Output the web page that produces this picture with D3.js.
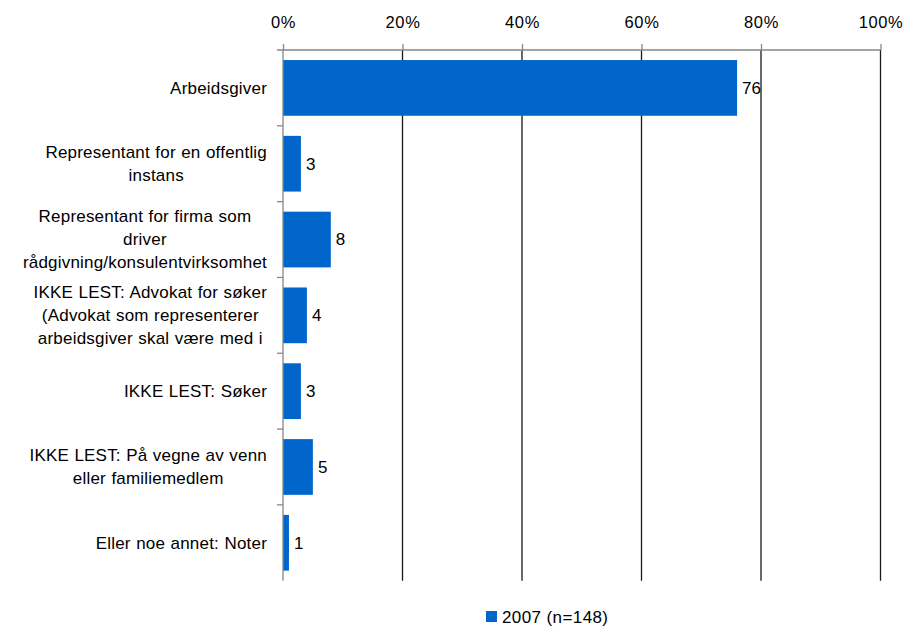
<!DOCTYPE html>
<html>
<head>
<meta charset="utf-8">
<script src="https://cdn.jsdelivr.net/npm/d3@7"></script>
<style>
  body { margin: 0; background: #fff; }
  text { font-family: "Liberation Sans", Arial, sans-serif; fill: #000; }
</style>
</head>
<body>
<svg width="903" height="626"></svg>
<script>
// data
var categories = [
  ["Arbeidsgiver"],
  ["Representant for en offentlig", "instans"],
  ["Representant for firma som", "driver", "rådgivning/konsulentvirksomhet"],
  ["IKKE LEST: Advokat for søker", "(Advokat som representerer", "arbeidsgiver skal være med i"],
  ["IKKE LEST: Søker"],
  ["IKKE LEST: På vegne av venn", "eller familiemedlem"],
  ["Eller noe annet: Noter"]
];
var values = [76, 3, 8, 4, 3, 5, 1];
var xTicks = [0, 20, 40, 60, 80, 100];
var seriesName = "2007 (n=148)";

var svg = d3.select("svg"),
    margin = {top: 50, left: 283, right: 22.5, bottom: 45.3},
    width = 903 - margin.left - margin.right,
    height = 626 - margin.top - margin.bottom,
    chart = svg.append("g").attr("transform", "translate(" + margin.left + "," + margin.top + ")");

var barColor = "#0066CC";

var x = d3.scaleLinear().domain([0, 100]).range([0, width]);
var y = d3.scaleBand()
          .domain(d3.range(categories.length))
          .range([0, height])
          .paddingInner(0.265)
          .paddingOuter(0.1325);

// gridlines (not at 0)
chart.selectAll(".grid")
     .data(xTicks.filter(function(d) { return d > 0; }))
     .enter().append("line")
     .attr("class", "grid")
     .attr("x1", function(d) { return x(d); })
     .attr("x2", function(d) { return x(d); })
     .attr("y1", 0)
     .attr("y2", height)
     .attr("stroke", "#1a1a1a")
     .attr("stroke-width", 1.3);

// top axis
var xAxis = chart.append("g")
     .call(d3.axisTop(x).tickValues(xTicks).tickSize(6).tickPadding(16)
            .tickFormat(function(d) { return d + "%"; }));
xAxis.select(".domain").remove();
xAxis.selectAll(".tick line").attr("stroke", "#868686").attr("stroke-width", 1.3);
xAxis.selectAll("text").attr("font-size", 16.5).attr("letter-spacing", 0.6)
     .style("font-family", '"Liberation Sans", Arial, sans-serif').attr("fill", "#000");
chart.append("line").attr("x1", -6).attr("x2", width).attr("y1", 0).attr("y2", 0)
     .attr("stroke", "#868686").attr("stroke-width", 1.3);

// bars
chart.selectAll(".bar")
     .data(values)
     .enter().append("rect")
     .attr("class", "bar")
     .attr("x", x(0))
     .attr("y", function(d, i) { return y(i); })
     .attr("width", function(d) { return x(d) - x(0); })
     .attr("height", y.bandwidth())
     .attr("fill", barColor);

// value labels
chart.selectAll(".val")
     .data(values)
     .enter().append("text")
     .attr("class", "val")
     .attr("x", function(d) { return x(d) + 5; })
     .attr("y", function(d, i) { return y(i) + y.bandwidth() / 2; })
     .attr("dy", "0.35em")
     .attr("font-size", 17)
     .text(function(d) { return d; });

// left axis line and category separators
chart.append("line").attr("x1", 0).attr("x2", 0).attr("y1", 0).attr("y2", height)
     .attr("stroke", "#868686").attr("stroke-width", 1.3);
chart.selectAll(".sep")
     .data(d3.range(1, categories.length))
     .enter().append("line")
     .attr("class", "sep")
     .attr("x1", -6).attr("x2", 0)
     .attr("y1", function(d) { return y.step() * d; })
     .attr("y2", function(d) { return y.step() * d; })
     .attr("stroke", "#868686").attr("stroke-width", 1.3);

// category labels: lines centred on each other, block right-aligned
var lineH = 23;
var labelRight = -16;
categories.forEach(function(lines, i) {
  var g = chart.append("g");
  var cy = y(i) + y.bandwidth() / 2;
  var texts = g.selectAll("text").data(lines).enter().append("text")
     .attr("font-size", 17)
     .attr("letter-spacing", 0.2)
     .attr("word-spacing", 0.5)
     .attr("text-anchor", "middle")
     .attr("y", function(d, j) { return cy + (j - (lines.length - 1) / 2) * lineH; })
     .attr("dy", "0.35em")
     .text(function(d) { return d; });
  var maxW = 0;
  texts.each(function() { maxW = Math.max(maxW, this.getComputedTextLength()); });
  texts.attr("x", labelRight - maxW / 2);
});

// legend
var legend = svg.append("g").attr("transform", "translate(486,611)");
legend.append("rect").attr("width", 11).attr("height", 11).attr("fill", barColor);
legend.append("text").attr("x", 16).attr("y", 11.5).attr("font-size", 17)
      .attr("letter-spacing", 0.4).text(seriesName);
</script>
</body>
</html>
